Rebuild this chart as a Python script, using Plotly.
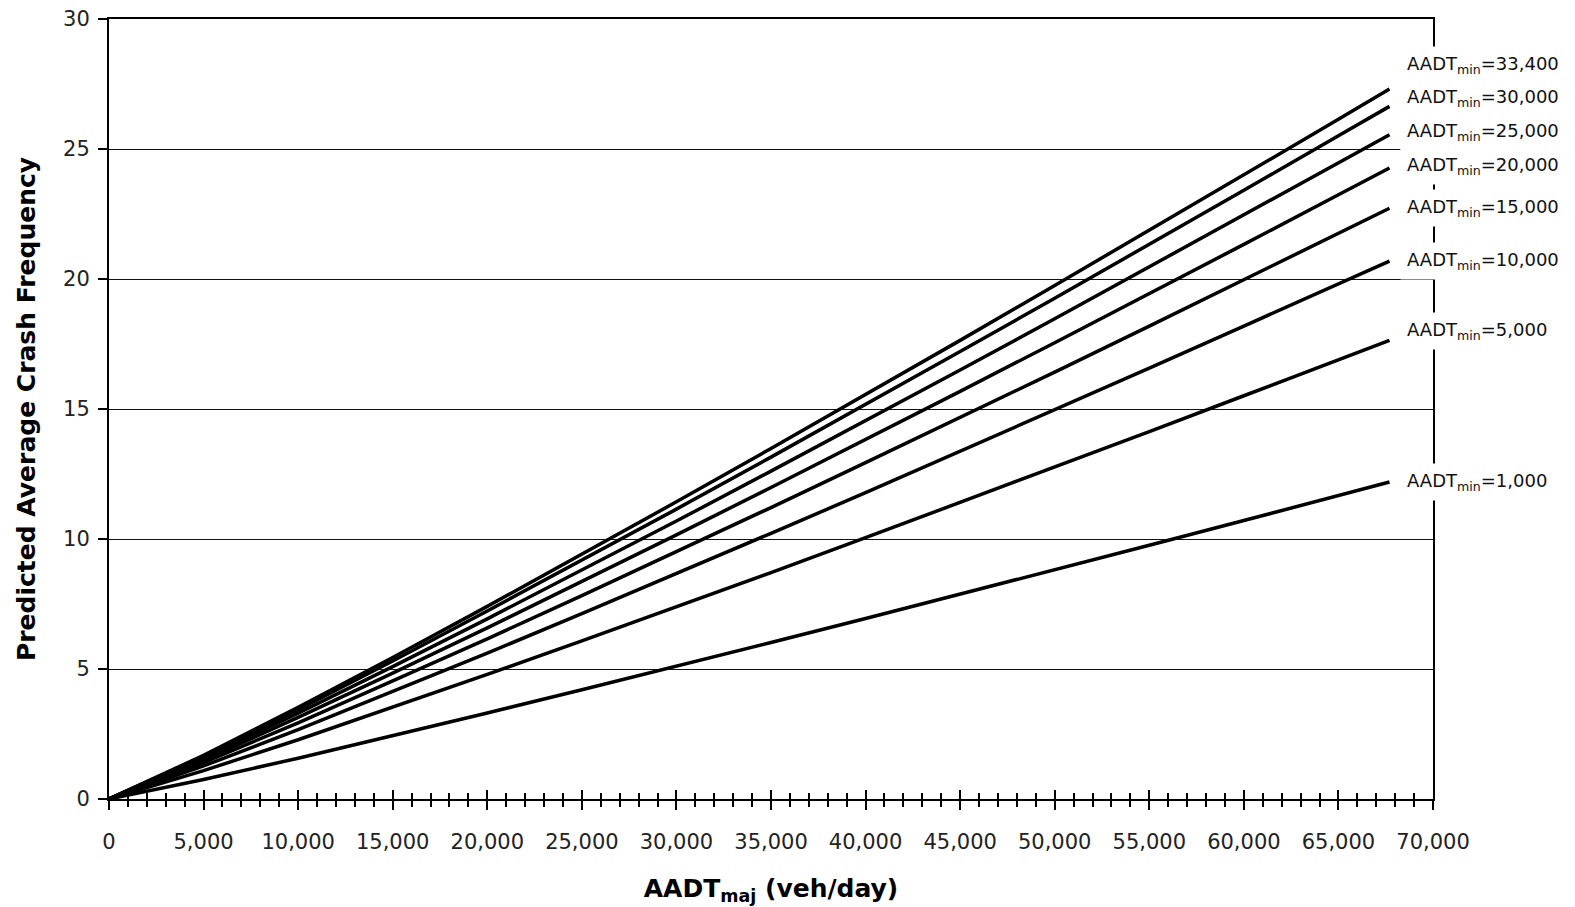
import plotly.graph_objects as go

# ---------------- data ----------------
aadt_maj = [0, 5000, 10000, 15000, 20000, 25000, 30000, 35000, 40000,
            45000, 50000, 55000, 60000, 65000, 67700]

series_names = ["1,000", "5,000", "10,000", "15,000", "20,000", "25,000", "30,000", "33,400"]

crash_1000 = [0, 0.75, 1.57, 2.43, 3.31, 4.20, 5.10, 6.02, 6.94, 7.87, 8.81, 9.76, 10.71, 11.67, 12.19]
crash_5000 = [0, 1.09, 2.28, 3.52, 4.79, 6.08, 7.39, 8.71, 10.05, 11.40, 12.76, 14.13, 15.51, 16.89, 17.64]
crash_10000 = [0, 1.27, 2.67, 4.13, 5.61, 7.13, 8.66, 10.22, 11.78, 13.37, 14.96, 16.57, 18.19, 19.81, 20.69]
crash_15000 = [0, 1.40, 2.93, 4.53, 6.16, 7.82, 9.51, 11.21, 12.94, 14.67, 16.42, 18.19, 19.96, 21.75, 22.72]
crash_20000 = [0, 1.49, 3.14, 4.84, 6.58, 8.36, 10.16, 11.98, 13.82, 15.68, 17.55, 19.43, 21.33, 23.24, 24.27]
crash_25000 = [0, 1.57, 3.30, 5.09, 6.93, 8.80, 10.69, 12.61, 14.55, 16.50, 18.47, 20.46, 22.45, 24.46, 25.55]
crash_30000 = [0, 1.64, 3.44, 5.31, 7.23, 9.18, 11.15, 13.15, 15.17, 17.21, 19.26, 21.33, 23.41, 25.51, 26.64]
crash_33400 = [0, 1.68, 3.53, 5.44, 7.41, 9.41, 11.43, 13.48, 15.55, 17.64, 19.75, 21.87, 24.00, 26.14, 27.31]

all_series = [crash_1000, crash_5000, crash_10000, crash_15000,
              crash_20000, crash_25000, crash_30000, crash_33400]

# ---------------- layout choices ----------------
# vertical placement of the right-hand labels (data units), spread to avoid overlap
label_y = [12.19, 18.0, 20.69, 22.73, 24.35, 25.65, 26.96, 28.23]

FONT = "DejaVu Sans"

fig = go.Figure()
for name, vals in zip(series_names, all_series):
    fig.add_trace(go.Scatter(
        x=aadt_maj, y=vals, mode="lines", name=name,
        line=dict(color="black", width=3.5), showlegend=False,
        hoverinfo="skip"))

# invisible trace on overlay axis so that crossing ticks render
fig.add_trace(go.Scatter(x=[0], y=[0], xaxis="x2", mode="markers",
                         marker=dict(opacity=0), showlegend=False, hoverinfo="skip"))

for name, ly in zip(series_names, label_y):
    fig.add_annotation(
        xref="paper", yref="y", x=0.9753, y=ly,
        xanchor="left", yanchor="middle",
        text="AADT<sub>min</sub>=" + name, showarrow=False,
        font=dict(family=FONT, size=18, color="#111"),
        bgcolor="white", borderpad=6, align="left")

fig.update_layout(
    width=1575, height=907,
    margin=dict(l=109, r=142, t=19, b=108, autoexpand=False),
    paper_bgcolor="white", plot_bgcolor="white",
    font=dict(family=FONT, color="#222"),
    xaxis=dict(
        range=[0, 70000], tick0=0, dtick=5000, tickformat=",d",
        ticks="outside", ticklen=9, tickwidth=1.5, tickcolor="black",
        minor=dict(dtick=1000, ticks="outside", ticklen=6, tickwidth=1.5, tickcolor="black"),
        showgrid=False, zeroline=False, automargin=False,
        showline=True, linecolor="black", linewidth=2, mirror=True,
        tickfont=dict(family=FONT, size=21, color="#222"),
        ticklabelstandoff=14,
        title=dict(text="<b>AADT<sub>maj</sub> (veh/day)</b>",
                   font=dict(family=FONT, size=25, color="black"), standoff=26),
    ),
    xaxis2=dict(
        overlaying="x", matches="x", anchor="y", side="bottom",
        range=[0, 70000], tick0=0, dtick=5000,
        ticks="inside", ticklen=9, tickwidth=1.5, tickcolor="black",
        minor=dict(dtick=1000, ticks="inside", ticklen=6, tickwidth=1.5, tickcolor="black"),
        showticklabels=False, showgrid=False, zeroline=False, showline=False,
        automargin=False,
    ),
    yaxis=dict(
        range=[0, 30], tick0=0, dtick=5,
        ticks="outside", ticklen=9, tickwidth=1.5, tickcolor="black",
        showgrid=True, gridcolor="#111", gridwidth=1.2, zeroline=False,
        showline=True, linecolor="black", linewidth=2, mirror=True,
        automargin=False,
        tickfont=dict(family=FONT, size=21, color="#222"),
        ticklabelstandoff=4,
        title=dict(text="<b>Predicted Average Crash Frequency</b>",
                   font=dict(family=FONT, size=25, color="black"), standoff=20),
    ),
)

fig.write_html("out.html")
